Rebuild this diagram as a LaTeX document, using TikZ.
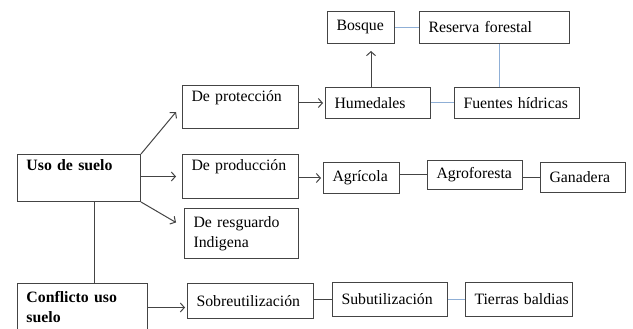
\documentclass[tikz,border=0pt]{standalone}
\usepackage{fontspec}
\setmainfont{Liberation Serif}
\usetikzlibrary{arrows.meta}
\definecolor{linegray}{HTML}{444444}
\definecolor{lineblue}{HTML}{8FAFD6}
\tikzstyle{box} = [rectangle, draw=linegray, line width=1pt, anchor=north west, align=left, inner xsep=9pt, inner ysep=5pt, font=\fontsize{15.8}{20}\selectfont]
\tikzstyle{topbox} = [box, text height=11pt]
\tikzstyle{arrow} = [draw=linegray, line width=1pt, -{Straight Barb[length=4pt,width=9pt]}, shorten >=2pt]
\tikzstyle{line} = [draw=linegray, line width=1pt]
\tikzstyle{blueline} = [draw=lineblue, line width=1pt]

\begin{document}
\begin{tikzpicture}[x=1pt, y=-1pt]
	\useasboundingbox (0,0) rectangle (633,329);
	            \node [topbox, text width=105, minimum height=47, text depth=26pt, font=\fontsize{15.8}{20}\selectfont\bfseries] at (17,154) (uso) {Uso de suelo};
	            \node [topbox, text width=98, minimum height=43, text depth=22pt] at (182,85) (prot) {De protección};
	            \node [topbox, text width=98, minimum height=44, text depth=23pt] at (182,154) (prod) {De producción};
	            \node [box, text width=96, minimum height=50] at (184,208) (resg) {De resguardo\\Indigena};
	            \node [box, text width=112, minimum height=48, font=\fontsize{15.8}{20}\selectfont\bfseries] at (17,283) (confl) {Conflicto uso\\suelo};

	            \node [box, text width=49, minimum height=32] at (327,11) (bosque) {Bosque};
	            \node [box, text width=132, minimum height=32] at (419,11) (reserva) {Reserva forestal};
	            \node [box, text width=87, minimum height=31] at (325,87) (humed) {Humedales};
	            \node [box, text width=107, minimum height=31] at (454,87) (fuentes) {Fuentes hídricas};

	            \node [box, text width=58, minimum height=31] at (323,162) (agric) {Agrícola};
	            \node [box, text width=77, minimum height=29] at (427,160) (agrof) {Agroforesta};
	            \node [box, text width=67, minimum height=30] at (540,162) (ganad) {Ganadera};

	            \node [box, text width=108, minimum height=35] at (187,283) (sobre) {Sobreutilización};
	            \node [box, text width=97, minimum height=34] at (332,282) (sub) {Subutilización};
	            \node [box, text width=89, minimum height=34] at (465,282) (tierras) {\mbox{Tierras baldias}};

	            \draw [arrow, shorten >=0pt] (uso.north east) -- ([xshift=-6pt,yshift=-5pt]prot.west);
	            \draw [arrow, shorten >=6pt] (uso.east |- prod.west) -- (prod.west);
	            \draw [arrow, shorten >=0pt] (uso.south east) -- ([xshift=-8pt,yshift=11pt]resg.west);
	            \draw [line] ([xshift=15pt]uso.south) -- ([xshift=15pt]uso.south |- confl.north);
	            \draw [arrow] (confl.east) -- (confl.east -| sobre.west);
	            \draw [arrow] (prot.east |- humed.west) -- (humed.west);
	            \draw [arrow, shorten >=7pt] ([xshift=-7pt]humed.north) -- ([xshift=-7pt]humed.north |- bosque.south);
	            \draw [arrow] (prod.east |- agric.west) -- (agric.west);
	            \draw [blueline] (bosque.east |- reserva.west) -- (reserva.west);
	            \draw [blueline] ([xshift=5pt]reserva.south) -- ([xshift=5pt]reserva.south |- fuentes.north);
	            \draw [blueline] (humed.east |- fuentes.west) -- (fuentes.west);
	            \draw [line] (agric.east |- agrof.west) -- (agrof.west);
	            \draw [line] (agrof.east |- ganad.west) -- (ganad.west);
	            \draw [line] (sobre.east |- sub.west) -- (sub.west);
	            \draw [blueline] (sub.east) -- (tierras.west);
                    \end{tikzpicture}
\end{document}
